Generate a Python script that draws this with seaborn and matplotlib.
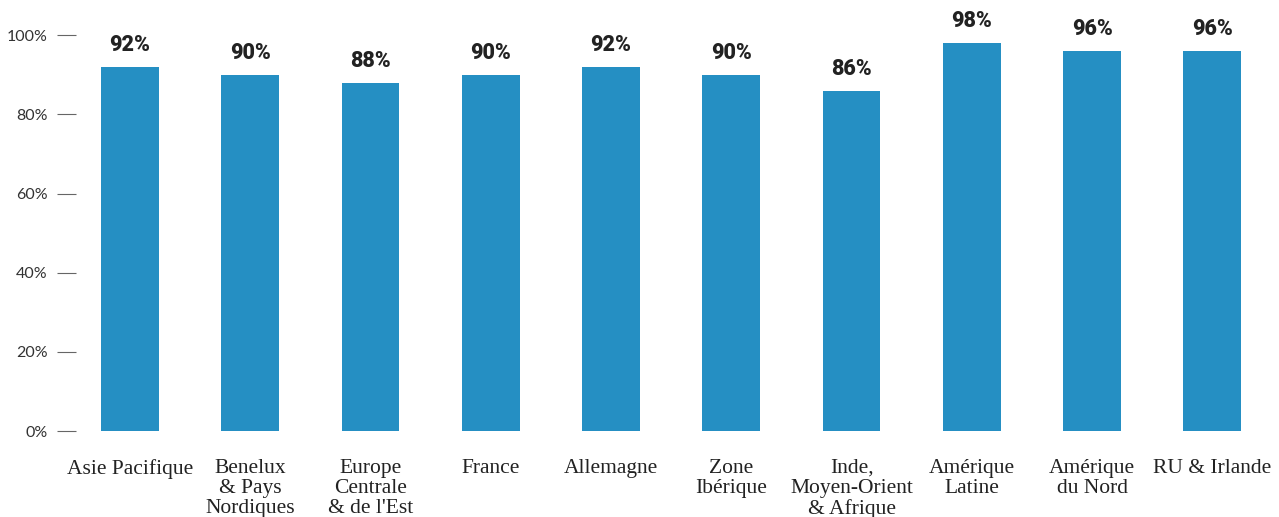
import matplotlib
matplotlib.use("Agg")
import matplotlib.pyplot as plt
import seaborn as sns
import pandas as pd
from matplotlib.ticker import FuncFormatter

# data
regions = ["Asie Pacifique", "Benelux\n& Pays\nNordiques", "Europe\nCentrale\n& de l'Est",
           "France", "Allemagne", "Zone\nIbérique", "Inde,\nMoyen-Orient\n& Afrique",
           "Amérique\nLatine", "Amérique\ndu Nord", "RU & Irlande"]
shares = [92, 90, 88, 90, 92, 90, 86, 98, 96, 96]
yticks = [0, 20, 40, 60, 80, 100]

bar_color = "#258fc3"

sns.set_style("white")
plt.rcParams["font.family"] = ["Lato", "DejaVu Sans"]

df = pd.DataFrame({"region": regions, "share": shares})

fig = plt.figure(figsize=(12.79, 5.17), dpi=100)
ax = fig.add_axes([0.0594, 0.1663, 0.9336, 0.8144])

sns.barplot(data=df, x="region", y="share", color=bar_color, saturation=1,
            width=0.48, linewidth=0, ax=ax)

# value labels above bars
for patch, val in zip(ax.patches, shares):
    ax.annotate(f"{val}%", (patch.get_x() + patch.get_width() / 2, patch.get_height()),
                xytext=(0, 8), textcoords="offset points", ha="center", va="bottom",
                fontsize=15.5, fontweight="heavy", color="#222222",
                family=["Roboto", "DejaVu Sans"])

ax.set_xlim(-0.45, 9.48)
ax.set_ylim(0, 106.4)
ax.set_yticks(yticks)
ax.yaxis.set_major_formatter(FuncFormatter(lambda v, p: f"{v:.0f}%"))
ax.tick_params(axis="y", direction="out", length=14, width=0.8, color="#666666",
               pad=6.5, labelsize=11.5, labelcolor="#333333", left=True)
ax.tick_params(axis="x", length=0, pad=20)
for lab in ax.get_xticklabels():
    lab.set_fontfamily(["Liberation Serif", "DejaVu Serif"])
    lab.set_fontsize(15.5)
    lab.set_color("#222222")
    lab.set_linespacing(1.08)
    lab.set_verticalalignment("top")

ax.set_xlabel("")
ax.set_ylabel("")
sns.despine(left=True, bottom=True)

fig.savefig("out.png", dpi=100, facecolor="white")
